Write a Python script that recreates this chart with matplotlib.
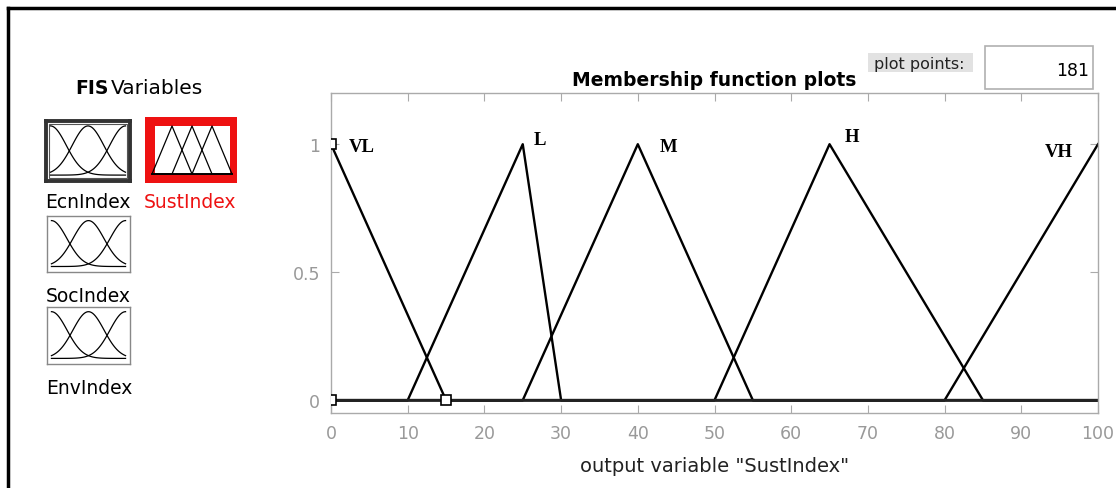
import numpy as np
import matplotlib.pyplot as plt
from matplotlib.patches import Rectangle

W, H = 1116, 489

# membership functions of SustIndex (trimf vertices)
mf_names = ['VL', 'L', 'M', 'H', 'VH']
mf_a = [-15, 10, 25, 50, 80]
mf_b = [0, 25, 40, 65, 100]
mf_c = [15, 30, 55, 85, 120]
label_x = [2.3, 26.4, 42.8, 67.0, 93.0]
label_y = [0.99, 1.02, 0.99, 1.03, 0.97]

# selected MF (VL) handles
handle_x = [0, 0, 15]
handle_y = [1, 0, 0]

xticks = [0, 10, 20, 30, 40, 50, 60, 70, 80, 90, 100]
yticks = [0, 0.5, 1]
ytick_labels = ['0', '0.5', '1']

# input variable icons (gaussmf centers / sigma)
gauss_c = [0.0, 0.5, 1.0]
gauss_s = 0.21
input_vars = ['EcnIndex', 'SocIndex', 'EnvIndex']

# output variable icon (trimf vertices)
icon_a = [0, 1, 2]
icon_b = [1, 2, 3]
icon_c = [2, 3, 4]

plt.rcParams['font.family'] = ['DejaVu Sans']

fig = plt.figure(figsize=(W / 100, H / 100), dpi=100)


def fx(x):
    return x / W


def fy(y):
    return 1 - y / H


def box(x0, y0, x1, y1):
    return [fx(x0), fy(y1), fx(x1) - fx(x0), fy(y0) - fy(y1)]


def trimf(x, a, b, c):
    return np.maximum(np.minimum((x - a) / (b - a), (c - x) / (c - b)), 0)


# outer frame
fig.add_artist(plt.Line2D([fx(8), fx(8)], [fy(9), 0], color='black', lw=2.5))
fig.add_artist(plt.Line2D([fx(8), 1], [fy(9), fy(9)], color='black', lw=2.5))

# main plot
ax = fig.add_axes(box(331, 94, 1098, 414))
xs = np.linspace(0, 100, 181)
for a, b, c in zip(mf_a, mf_b, mf_c):
    ax.plot(xs, trimf(xs, a, b, c), color='black', lw=1.7)
ax.plot([0, 100], [0, 0], color='#222222', lw=1.7)
ax.plot(handle_x, handle_y, ls='none', marker='s', ms=7, mfc='white',
        mec='black', mew=1.2, zorder=5)
for name, lx, ly in zip(mf_names, label_x, label_y):
    ax.text(lx, ly, name, family='Liberation Serif', fontweight='bold',
            fontsize=13.5, va='center', ha='left')
ax.set_xlim(0, 100)
ax.set_ylim(-0.05, 1.2)
ax.set_xticks(xticks)
ax.set_yticks(yticks)
ax.set_yticklabels(ytick_labels)
ax.tick_params(direction='in', top=True, right=True, length=6, width=0.8,
               color='#aaaaaa', labelcolor='#999999', labelsize=12.5, pad=8)
for sp in ax.spines.values():
    sp.set_color('#aaaaaa')
    sp.set_linewidth(1)
ax.set_xlabel('output variable "SustIndex"', fontsize=14, color='#222222',
              labelpad=10)
ax.set_title('Membership function plots', fontsize=13.5, fontweight='bold',
             pad=6)

# plot points widgets
fig.patches.append(Rectangle((fx(868), fy(73)), fx(973) - fx(868), fy(54) - fy(73),
                             transform=fig.transFigure, facecolor='#e2e2e2',
                             edgecolor='none'))
fig.text(fx(919), fy(64), 'plot points:', fontsize=11.5, ha='center',
         va='center', color='#222222')
fig.patches.append(Rectangle((fx(985), fy(90)), fx(1093) - fx(985), fy(47) - fy(90),
                             transform=fig.transFigure, facecolor='white',
                             edgecolor='#b0b0b0', lw=1.2))
fig.text(fx(1089), fy(71), '181', fontsize=12.5, ha='right', va='center')

# left panel: FIS Variables
fig.text(fx(75), fy(88), 'FIS', fontsize=13.5, fontweight='bold', va='center')
fig.text(fx(111), fy(88), 'Variables', fontsize=14.5, va='center')

xg = np.linspace(0, 1, 60)
icon_boxes = [(46, 122, 130, 182), (47, 217, 130, 273), (47, 308, 130, 365)]
icon_labels_y = [203, 297, 388]
for i, (name, (x0, y0, x1, y1), ly) in enumerate(zip(input_vars, icon_boxes,
                                                      icon_labels_y)):
    iax = fig.add_axes(box(x0, y0, x1, y1))
    for c in gauss_c:
        iax.plot(xg, np.exp(-(xg - c) ** 2 / (2 * gauss_s ** 2)), color='black',
                 lw=0.9)
    iax.set_xlim(-0.06, 1.06)
    iax.set_ylim(-0.12, 1.1)
    iax.set_xticks([])
    iax.set_yticks([])
    for sp in iax.spines.values():
        sp.set_color('#333333' if i == 0 else '#888888')
        sp.set_linewidth(2.8 if i == 0 else 1)
    if i == 0:
        iax.add_patch(Rectangle((0.04, 0.05), 0.92, 0.9, transform=iax.transAxes,
                                fill=False, edgecolor='#555555', lw=0.8))
    fig.text(fx(x0 - 1), fy(ly), name, fontsize=13.5, va='center', ha='left')

# selected output variable icon (red frame)
oax = fig.add_axes(box(145, 118, 237, 184))
oax.set_facecolor('#ee1111')
oax.add_patch(Rectangle((0.15, 0), 3.75, 1, facecolor='white', edgecolor='none'))
xi = np.linspace(0, 4, 81)
for a, b, c in zip(icon_a, icon_b, icon_c):
    oax.plot(xi, trimf(xi, a, b, c), color='black', lw=0.9)
oax.plot([0, 4], [0, 0], color='black', lw=1.3)
oax.set_xlim(-0.35, 4.25)
oax.set_ylim(-0.1875, 1.1875)
oax.set_xticks([])
oax.set_yticks([])
for sp in oax.spines.values():
    sp.set_visible(False)
fig.text(fx(144), fy(203), 'SustIndex', fontsize=13.5, va='center', ha='left',
         color='#ee1111')

fig.savefig('out.png', dpi=100)
